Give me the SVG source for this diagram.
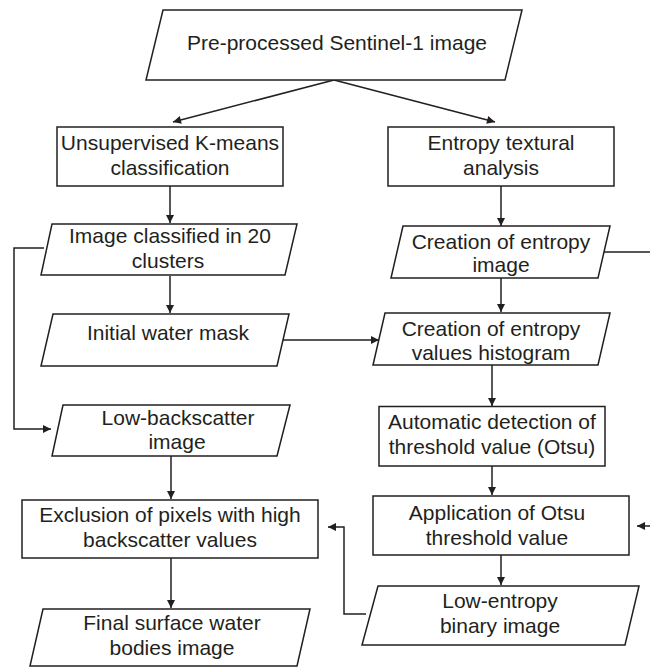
<svg xmlns="http://www.w3.org/2000/svg" width="650" height="668" viewBox="0 0 650 668">
<style>
.n{fill:#ffffff;stroke:#231f20;stroke-width:1.5}
.t{font-family:"Liberation Sans",Arial,sans-serif;font-size:21px;fill:#231f20;text-anchor:middle}
.c{fill:none;stroke:#231f20;stroke-width:1.5}
</style>
<defs>
<marker id="ah" viewBox="0 0 10 10" refX="10" refY="5" markerWidth="9" markerHeight="8" markerUnits="userSpaceOnUse" orient="auto">
<path d="M0,0 L10,5 L0,10 z" fill="#231f20"/>
</marker>
</defs>
<rect width="650" height="668" fill="#ffffff"/>
<g id="connectors">
<path class="c" d="M334,80 L173,122" marker-end="url(#ah)"/>
<path class="c" d="M334,80 L495,122" marker-end="url(#ah)"/>
<path class="c" d="M170,186 V223" marker-end="url(#ah)"/>
<path class="c" d="M501,186 V226" marker-end="url(#ah)"/>
<path class="c" d="M170,276 V313" marker-end="url(#ah)"/>
<path class="c" d="M44,248 H14 V429 H51" marker-end="url(#ah)"/>
<path class="c" d="M283,340 H379" marker-end="url(#ah)"/>
<path class="c" d="M501,278 V312" marker-end="url(#ah)"/>
<path class="c" d="M492,365 V406" marker-end="url(#ah)"/>
<path class="c" d="M492,466 V495" marker-end="url(#ah)"/>
<path class="c" d="M604,252 H658 V526 H637" marker-end="url(#ah)"/>
<path class="c" d="M501,555 V585" marker-end="url(#ah)"/>
<path class="c" d="M366,614 H344 V527 H328" marker-end="url(#ah)"/>
<path class="c" d="M171,456 V499" marker-end="url(#ah)"/>
<path class="c" d="M171,558 V608" marker-end="url(#ah)"/>
</g>
<g id="n-input">
<polygon class="n" points="163,10 522,10 505,80 146,80"/>
<text class="t" x="337" y="50">Pre-processed Sentinel-1 image</text>
</g>
<g id="n-kmeans">
<rect class="n" x="57" y="127" width="226" height="59"/>
<text class="t" x="170" y="150">Unsupervised K-means</text>
<text class="t" x="170" y="175">classification</text>
</g>
<g id="n-entropy">
<rect class="n" x="388" y="127" width="226" height="59"/>
<text class="t" x="501" y="150">Entropy textural</text>
<text class="t" x="501" y="175">analysis</text>
</g>
<g id="n-classified">
<polygon class="n" points="52,224 297,224 285,275 41,275"/>
<text class="t" x="170" y="243">Image classified in 20</text>
<text class="t" x="168" y="268">clusters</text>
</g>
<g id="n-entropyimage">
<polygon class="n" points="403,226 610,226 598,278 391,278"/>
<text class="t" x="501" y="249">Creation of entropy</text>
<text class="t" x="501" y="272">image</text>
</g>
<g id="n-watermask">
<polygon class="n" points="53,314 289,314 277,366 41,366"/>
<text class="t" x="168" y="340">Initial water mask</text>
</g>
<g id="n-histogram">
<polygon class="n" points="385,313 610,313 598,365 373,365"/>
<text class="t" x="491" y="336">Creation of entropy</text>
<text class="t" x="491" y="360">values histogram</text>
</g>
<g id="n-lowback">
<polygon class="n" points="63,405 290,405 277,456 52,456"/>
<text class="t" x="178" y="425">Low-backscatter</text>
<text class="t" x="177" y="449">image</text>
</g>
<g id="n-otsu">
<rect class="n" x="379" y="406.5" width="226" height="59.5"/>
<text class="t" x="492" y="429">Automatic detection of</text>
<text class="t" x="492" y="454">threshold value (Otsu)</text>
</g>
<g id="n-apply">
<rect class="n" x="373" y="496" width="256" height="59"/>
<text class="t" x="497" y="520">Application of Otsu</text>
<text class="t" x="497" y="545">threshold value</text>
</g>
<g id="n-exclusion">
<rect class="n" x="22" y="500" width="296" height="58"/>
<text class="t" x="170" y="522">Exclusion of pixels with high</text>
<text class="t" x="170" y="547">backscatter values</text>
</g>
<g id="n-lowentropy">
<polygon class="n" points="378,586 639,586 625,645 362,645"/>
<text class="t" x="500" y="608">Low-entropy</text>
<text class="t" x="500" y="633">binary image</text>
</g>
<g id="n-final">
<polygon class="n" points="43,609 310,609 297,666 30,666"/>
<text class="t" x="172" y="630">Final surface water</text>
<text class="t" x="172" y="655">bodies image</text>
</g>
</svg>
